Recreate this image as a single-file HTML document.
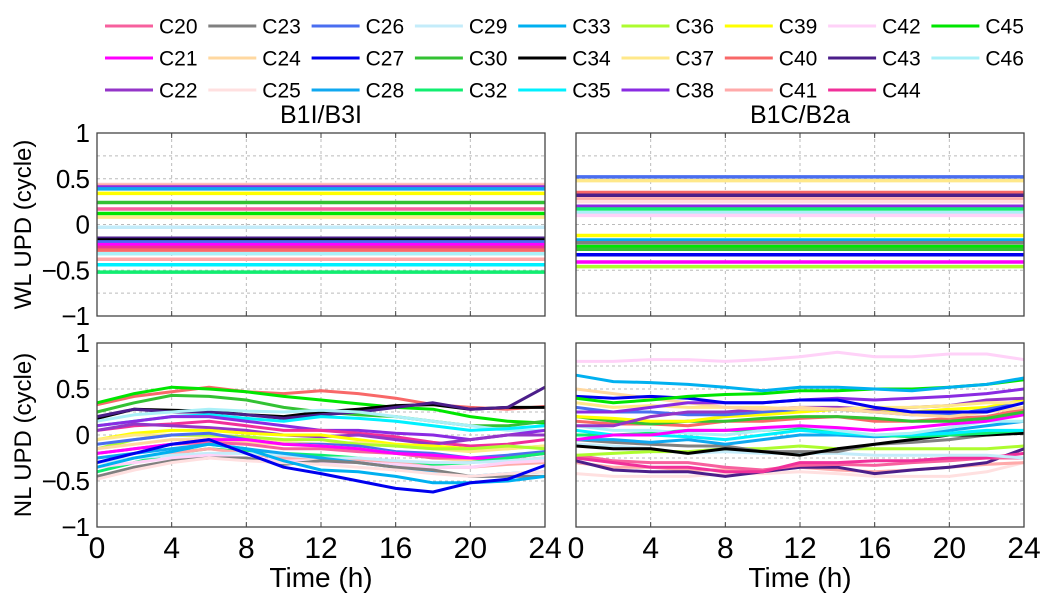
<!DOCTYPE html>
<html><head><meta charset="utf-8"><style>
body{margin:0;background:#fff;}
svg{display:block;font-family:"Liberation Sans",Arial,sans-serif;}
</style></head><body>
<svg id="chart" width="1060" height="606" viewBox="0 0 1060 606"></svg>
<script>
const names=["C20","C21","C22","C23","C24","C25","C26","C27","C28","C29","C30","C32","C33","C34","C35","C36","C37","C38","C39","C40","C41","C42","C43","C44","C45","C46"];
const colors={C20:"#f7609e",C21:"#ff00ff",C22:"#9435c8",C23:"#808080",C24:"#ffd8a0",C25:"#ffe0e0",C26:"#4a6ef0",C27:"#0000ee",C28:"#10a8f0",C29:"#c4ecfa",C30:"#33c233",C32:"#10ee70",C33:"#00b0f0",C34:"#000000",C35:"#00f0ff",C36:"#adfc2f",C37:"#ffe88a",C38:"#8a2be2",C39:"#ffff00",C40:"#f86868",C41:"#ffaaaa",C42:"#ffd2f8",C43:"#4b1e8a",C44:"#f0309a",C45:"#00e600",C46:"#aaf0f8"};
const xTicks=[0,4,8,12,16,20,24];
const yTicks=[1,0.5,0,-0.5,-1];
const yTickLabels=["1","0.5","0","\u22120.5","\u22121"];
const times=[0,2,4,6,8,10,12,14,16,18,20,22,24];
const wlB1={C25:0.44,C41:0.43,C38:0.41,C28:0.39,C39:0.34,C30:0.24,C20:0.17,C45:0.12,C37:0.08,C29:-0.03,C43:-0.15,C34:-0.17,C26:-0.19,C21:-0.22,C44:-0.25,C40:-0.28,C46:-0.32,C41b:-0.38,C35:-0.44,C32:-0.52};
const wlB2={C26:0.52,C37:0.48,C40:0.35,C43:0.32,C41:0.28,C25:0.25,C38:0.2,C32:0.17,C46:0.13,C42:0.1,C39:-0.12,C33:-0.17,C23:-0.2,C45:-0.24,C30:-0.27,C27:-0.33,C21:-0.41,C36:-0.46};
const nlB1={
C40:[0.33,0.42,0.47,0.52,0.47,0.45,0.48,0.45,0.40,0.33,0.30,0.28,0.31],
C45:[0.35,0.45,0.52,0.50,0.47,0.42,0.38,0.34,0.30,0.28,0.20,0.15,0.13],
C30:[0.25,0.35,0.43,0.42,0.38,0.30,0.25,0.22,0.20,0.15,0.10,0.10,0.15],
C34:[0.18,0.28,0.27,0.26,0.22,0.20,0.25,0.28,0.32,0.33,0.28,0.30,0.30],
C43:[0.20,0.28,0.25,0.25,0.22,0.18,0.22,0.25,0.30,0.35,0.28,0.30,0.52],
C46:[0.15,0.22,0.25,0.28,0.26,0.25,0.27,0.25,0.20,0.15,0.10,0.05,0.05],
C35:[0.10,0.15,0.20,0.22,0.18,0.15,0.20,0.18,0.15,0.10,0.05,0.07,0.10],
C38:[0.10,0.15,0.20,0.20,0.15,0.10,0.05,0.05,0.02,0.00,-0.05,0.00,0.05],
C44:[0.05,0.10,0.12,0.15,0.10,0.05,0.05,0.02,-0.02,-0.08,-0.12,-0.10,-0.05],
C22:[0.05,0.12,0.10,0.08,0.05,0.00,-0.02,0.00,-0.05,-0.10,-0.05,0.00,0.00],
C39:[-0.05,0.02,0.05,0.05,0.02,0.00,0.00,-0.05,-0.10,-0.12,-0.15,-0.15,-0.12],
C37:[-0.05,0.00,0.00,-0.02,-0.05,-0.08,-0.10,-0.08,-0.12,-0.15,-0.18,-0.15,-0.12],
C36:[-0.15,-0.05,0.00,0.00,-0.02,-0.05,-0.05,-0.10,-0.12,-0.15,-0.15,-0.12,-0.15],
C26:[-0.10,-0.05,0.00,0.02,-0.05,-0.10,-0.10,-0.12,-0.18,-0.20,-0.25,-0.22,-0.18],
C24:[-0.15,-0.10,-0.05,-0.05,-0.08,-0.10,-0.12,-0.15,-0.20,-0.25,-0.28,-0.30,-0.25],
C20:[-0.20,-0.15,-0.10,-0.08,-0.10,-0.15,-0.15,-0.18,-0.20,-0.25,-0.25,-0.28,-0.25],
C21:[-0.20,-0.15,-0.10,-0.05,-0.05,-0.10,-0.12,-0.15,-0.20,-0.22,-0.25,-0.25,-0.20],
C32:[-0.40,-0.30,-0.20,-0.15,-0.18,-0.20,-0.22,-0.25,-0.30,-0.32,-0.30,-0.25,-0.20],
C41:[-0.30,-0.25,-0.20,-0.15,-0.20,-0.25,-0.25,-0.28,-0.30,-0.35,-0.35,-0.32,-0.30],
C29:[-0.30,-0.25,-0.22,-0.20,-0.20,-0.22,-0.25,-0.25,-0.28,-0.30,-0.30,-0.28,-0.25],
C42:[-0.35,-0.30,-0.25,-0.22,-0.25,-0.28,-0.30,-0.30,-0.32,-0.35,-0.35,-0.30,-0.28],
C28:[-0.25,-0.20,-0.15,-0.10,-0.15,-0.20,-0.25,-0.30,-0.35,-0.40,-0.45,-0.42,-0.40],
C23:[-0.45,-0.35,-0.28,-0.25,-0.25,-0.32,-0.28,-0.30,-0.35,-0.38,-0.45,-0.45,-0.45],
C25:[-0.48,-0.38,-0.30,-0.25,-0.28,-0.30,-0.32,-0.35,-0.38,-0.42,-0.45,-0.42,-0.40],
C33:[-0.35,-0.25,-0.18,-0.10,-0.15,-0.28,-0.38,-0.40,-0.45,-0.52,-0.52,-0.50,-0.45],
C27:[-0.30,-0.20,-0.10,-0.05,-0.20,-0.35,-0.42,-0.50,-0.58,-0.62,-0.52,-0.48,-0.33]};
const nlB2={
C25:[-0.42,-0.45,-0.45,-0.45,-0.42,-0.42,-0.40,-0.42,-0.45,-0.45,-0.45,-0.40,-0.30],
C41:[-0.30,-0.35,-0.35,-0.38,-0.38,-0.38,-0.35,-0.38,-0.40,-0.38,-0.35,-0.32,-0.30],
C43:[-0.28,-0.38,-0.40,-0.40,-0.45,-0.40,-0.35,-0.35,-0.42,-0.38,-0.35,-0.30,-0.15],
C20:[-0.22,-0.28,-0.30,-0.30,-0.35,-0.38,-0.33,-0.32,-0.33,-0.30,-0.28,-0.25,-0.25],
C44:[-0.25,-0.30,-0.35,-0.35,-0.40,-0.40,-0.30,-0.30,-0.28,-0.28,-0.25,-0.25,-0.20],
C29:[-0.10,-0.12,-0.15,-0.20,-0.18,-0.20,-0.20,-0.20,-0.22,-0.22,-0.22,-0.22,-0.25],
C36:[-0.22,-0.20,-0.18,-0.18,-0.15,-0.15,-0.12,-0.15,-0.15,-0.15,-0.15,-0.15,-0.12],
C23:[-0.05,-0.08,-0.10,-0.12,-0.12,-0.18,-0.18,-0.18,-0.10,-0.08,-0.05,0.00,0.05],
C34:[-0.12,-0.15,-0.15,-0.20,-0.15,-0.18,-0.22,-0.15,-0.10,-0.05,0.00,0.00,0.02],
C28:[-0.05,-0.05,-0.08,-0.05,-0.10,-0.05,0.00,0.00,-0.02,0.00,0.05,0.10,0.15],
C32:[0.00,0.00,0.02,0.05,0.05,0.05,0.08,0.02,0.00,-0.02,0.00,0.02,0.05],
C35:[0.05,0.00,0.00,-0.02,-0.05,0.00,0.05,0.02,0.00,0.00,0.02,0.05,0.05],
C46:[0.10,0.05,0.05,0.02,0.00,0.05,0.10,0.05,0.00,0.02,0.08,0.15,0.15],
C21:[-0.05,0.00,0.00,0.05,0.05,0.08,0.10,0.08,0.05,0.08,0.12,0.15,0.22],
C40:[0.15,0.12,0.12,0.10,0.15,0.15,0.18,0.20,0.15,0.15,0.18,0.20,0.28],
C30:[0.20,0.15,0.12,0.15,0.15,0.18,0.20,0.20,0.18,0.15,0.15,0.18,0.25],
C39:[0.20,0.18,0.15,0.15,0.20,0.22,0.25,0.28,0.25,0.25,0.28,0.30,0.38],
C26:[0.30,0.25,0.25,0.22,0.22,0.25,0.28,0.28,0.25,0.22,0.22,0.28,0.35],
C22:[0.10,0.10,0.20,0.25,0.25,0.28,0.30,0.30,0.28,0.30,0.32,0.38,0.40],
C37:[0.35,0.30,0.32,0.30,0.30,0.30,0.28,0.28,0.30,0.30,0.32,0.35,0.35],
C24:[0.50,0.45,0.40,0.35,0.30,0.28,0.30,0.28,0.25,0.22,0.20,0.25,0.30],
C38:[0.25,0.25,0.30,0.35,0.35,0.35,0.38,0.40,0.38,0.40,0.42,0.45,0.50],
C27:[0.42,0.40,0.42,0.40,0.35,0.35,0.38,0.38,0.30,0.25,0.25,0.25,0.35],
C45:[0.40,0.35,0.38,0.42,0.44,0.45,0.48,0.48,0.50,0.50,0.52,0.55,0.60],
C33:[0.65,0.58,0.57,0.55,0.52,0.48,0.52,0.52,0.50,0.48,0.52,0.55,0.62],
C42:[0.80,0.80,0.82,0.82,0.80,0.82,0.85,0.90,0.85,0.85,0.88,0.88,0.82]};

const NS="http://www.w3.org/2000/svg";
const svg=document.getElementById("chart");
function mk(tag,attrs,parent){const e=document.createElementNS(NS,tag);for(const k in attrs)e.setAttribute(k,attrs[k]);(parent||svg).appendChild(e);return e;}
function col(k){return colors[k.replace(/b$/,"")];}

names.forEach((n,i)=>{
  const c=Math.floor(i/3),r=i%3;
  const x=105+c*103.3,y=26+r*32;
  const g=mk("g",{});
  
  
  mk("line",{x1:x,x2:x+48,y1:y,y2:y,stroke:colors[n],"stroke-width":3},g);
  const t=mk("text",{x:x+54,y:y+7.5,"font-size":21,fill:"#000"},g);t.textContent=n;
});

const panels=[
 {x0:97,x1:545,y0:133,y1:316,type:"wl",d:wlB1,title:"B1I/B3I",ylab:"WL UPD (cycle)",left:true,bottom:false,name:"wl-b1i-b3i"},
 {x0:576,x1:1024,y0:133,y1:316,type:"wl",d:wlB2,title:"B1C/B2a",left:false,bottom:false,name:"wl-b1c-b2a"},
 {x0:97,x1:545,y0:343,y1:527,type:"nl",d:nlB1,ylab:"NL UPD (cycle)",left:true,bottom:true,name:"nl-b1i-b3i"},
 {x0:576,x1:1024,y0:343,y1:527,type:"nl",d:nlB2,left:false,bottom:true,name:"nl-b1c-b2a"}];

panels.forEach(p=>{
  const g=mk("g",{});
  
  
  const sx=t=>p.x0+(t/24)*(p.x1-p.x0);
  const sy=v=>p.y0+(1-v)/2*(p.y1-p.y0);
  for(let v=-0.75;v<1;v+=0.25){mk("line",{x1:p.x0,x2:p.x1,y1:sy(v),y2:sy(v),stroke:"#bbb","stroke-width":1,"stroke-dasharray":"3,3"},g);}
  xTicks.forEach(t=>{if(t>0&&t<24)mk("line",{x1:sx(t),x2:sx(t),y1:p.y0,y2:p.y1,stroke:"#bbb","stroke-width":1,"stroke-dasharray":"3,3"},g);});
  for(const k in p.d){
    let el;
    if(p.type==="wl"){
      el=mk("line",{x1:p.x0,x2:p.x1,y1:sy(p.d[k]),y2:sy(p.d[k]),stroke:col(k),"stroke-width":3.5},g);
    }else{
      const pts=p.d[k].map((v,i)=>sx(times[i]).toFixed(1)+","+sy(v).toFixed(1)).join(" ");
      el=mk("polyline",{points:pts,fill:"none",stroke:col(k),"stroke-width":3,"stroke-linejoin":"round"},g);
    }
    
    
  }
  mk("rect",{x:p.x0,y:p.y0,width:p.x1-p.x0,height:p.y1-p.y0,fill:"none",stroke:"#444","stroke-width":1.3},g);
  xTicks.forEach(t=>{mk("line",{x1:sx(t),x2:sx(t),y1:p.y1,y2:p.y1-5,stroke:"#444"},g);mk("line",{x1:sx(t),x2:sx(t),y1:p.y0,y2:p.y0+5,stroke:"#444"},g);});
  if(p.left){
    yTicks.forEach((v,i)=>{const t=mk("text",{x:p.x0-8,y:sy(v)+9,"font-size":26,"letter-spacing":-1,"text-anchor":"end"},g);t.textContent=yTickLabels[i];
      
      });
    const yl=mk("text",{x:0,y:0,"font-size":24,"text-anchor":"middle",transform:`translate(31,${(p.y0+p.y1)/2}) rotate(-90)`},g);
    yl.textContent=p.ylab;
    
    
  }
  if(p.bottom){
    xTicks.forEach(t=>{const tx=mk("text",{x:sx(t),y:p.y1+31,"font-size":30,"text-anchor":"middle"},g);tx.textContent=t;
      
      });
    const xl=mk("text",{x:(p.x0+p.x1)/2,y:p.y1+60,"font-size":28,"text-anchor":"middle"},g);
    xl.textContent="Time (h)";
    
    
  }
  if(p.title){
    const tt=mk("text",{x:(p.x0+p.x1)/2,y:p.y0-10,"font-size":25,"text-anchor":"middle"},g);
    tt.textContent=p.title;
    
    
  }
});
</script>
</body></html>
